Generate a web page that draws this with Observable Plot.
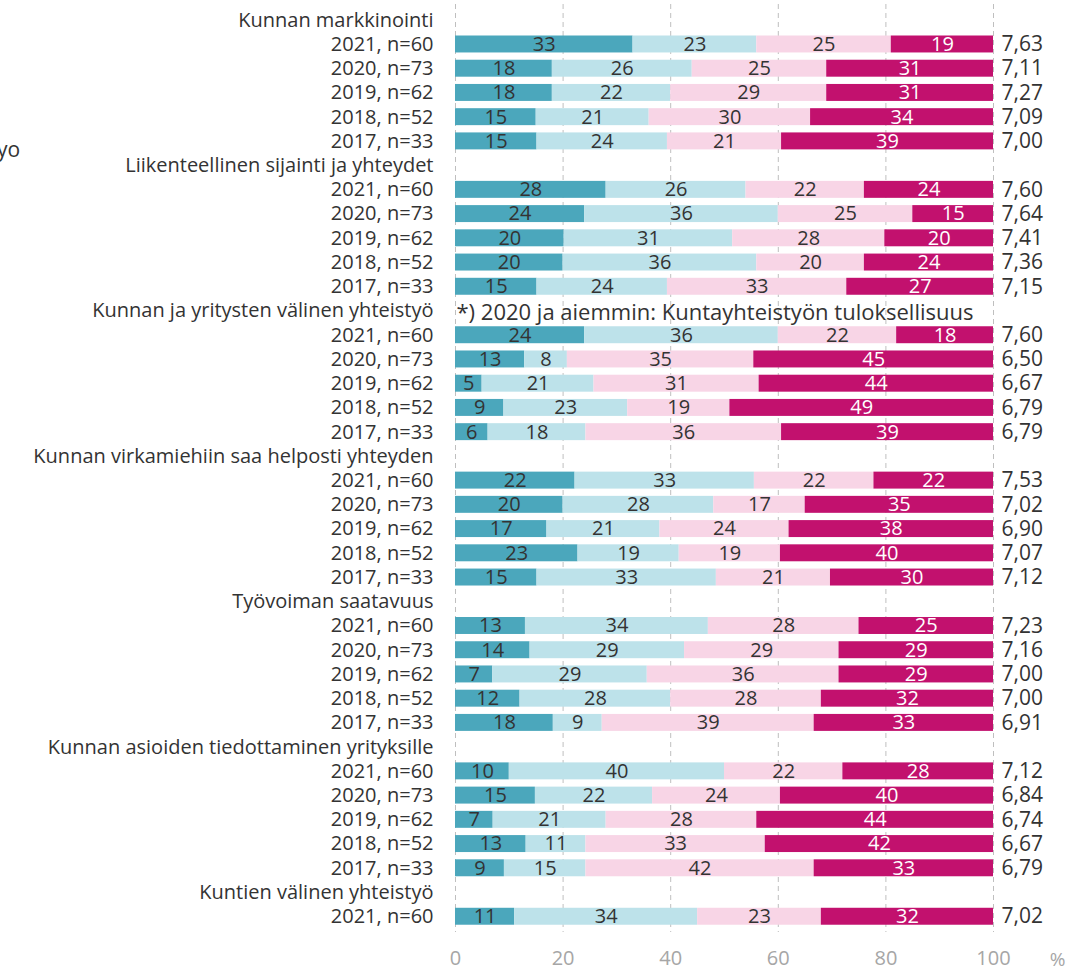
<!DOCTYPE html>
<html><head><meta charset="utf-8">
<script src="https://cdn.jsdelivr.net/npm/d3@7"></script>
<script src="https://cdn.jsdelivr.net/npm/@observablehq/plot@0.6"></script>
<style>
body{margin:0;background:#fff;font-family:"Open Sans",sans-serif;}
#c{position:relative;width:1072px;height:971px;overflow:hidden;background:#fff}
#cut{position:absolute;left:-3px;top:135px;font-size:21px;color:#333;}
</style>
</head><body><div id="c"><div id="cut">yo</div></div>
<script>
const groupNames = [
  "Kunnan markkinointi",
  "Liikenteellinen sijainti ja yhteydet",
  "Kunnan ja yritysten välinen yhteistyö",
  "Kunnan virkamiehiin saa helposti yhteyden",
  "Työvoiman saatavuus",
  "Kunnan asioiden tiedottaminen yrityksille",
  "Kuntien välinen yhteistyö"
];
const fullYears = ["2021, n=60","2020, n=73","2019, n=62","2018, n=52","2017, n=33"];
const rowLabels = [fullYears, fullYears, fullYears, fullYears, fullYears, fullYears, ["2021, n=60"]];
const seriesNames = ["s1","s2","s3","s4"];
const seriesColors = ["#4BA7BC","#BDE2EA","#F8D5E6","#C2116E"];
const s1 = [[33,18,18,15,15],[28,24,20,20,15],[24,13,5,9,6],[22,20,17,23,15],[13,14,7,12,18],[10,15,7,13,9],[11]];
const s2 = [[23,26,22,21,24],[26,36,31,36,24],[36,8,21,23,18],[33,28,21,19,33],[34,29,29,28,9],[40,22,21,11,15],[34]];
const s3 = [[25,25,29,30,21],[22,25,28,20,33],[22,35,31,19,36],[22,17,24,19,21],[28,29,36,28,39],[22,24,28,33,42],[23]];
const s4 = [[19,31,31,34,39],[24,15,20,24,27],[18,45,44,49,39],[22,35,38,40,30],[25,29,29,32,33],[28,40,44,42,33],[32]];
const means = [[7.63,7.11,7.27,7.09,7.00],[7.60,7.64,7.41,7.36,7.15],[7.60,6.50,6.67,6.79,6.79],[7.53,7.02,6.90,7.07,7.12],[7.23,7.16,7.00,7.00,6.91],[7.12,6.84,6.74,6.67,6.79],[7.02]];
const xTicks = [0,20,40,60,80,100];
const noteText = "*) 2020 ja aiemmin: Kuntayhteistyön tuloksellisuus";
const noteGroup = 2;

// build tables
const yDomain = [];
const segs = [];
const rows = [];
const seriesArr = [s1,s2,s3,s4];
groupNames.forEach((g,gi)=>{
  yDomain.push(gi+"|"+g);
  rowLabels[gi].forEach((lab,ri)=>{
    const key = gi+"|"+lab;
    yDomain.push(key);
    rows.push({key, mean: means[gi][ri]});
    seriesArr.forEach((s,si)=>segs.push({key, series: seriesNames[si], value: s[gi][ri]}));
  });
});
const fmt = d3.format(".2f");
const F = "Open Sans";
const stackOpts = {x:"value", y:"key", z:"series", offset:"normalize", order: seriesNames};

const chart = Plot.plot({
  width:1072, height:971,
  marginLeft:455, marginRight:79, marginTop:4, marginBottom:39,
  style:{fontFamily:F, fontSize:"20px", color:"#333", background:"#fff", overflow:"visible"},
  x:{domain:[0,1]},
  y:{domain:yDomain, padding:0.3, round:false},
  color:{domain:seriesNames, range:seriesColors},
  marks:[
    Plot.gridX({ticks: xTicks.map(t=>t/100), stroke:"#BFBFBF", strokeOpacity:1, strokeDasharray:"5,4", strokeWidth:1}),
    Plot.axisX({ticks: xTicks.map(t=>t/100), tickFormat:d=>String(Math.round(d*100)), tickSize:0, tickPadding:18, fill:"#A6A6A6", fontSize:20, fontFamily:F, label:null}),
    Plot.axisY({tickSize:0, tickPadding:22, tickFormat:k=>k.slice(k.indexOf("|")+1), fill:"#333", fontSize:20, fontFamily:F, label:null}),
    Plot.barX(segs, Plot.stackX({...stackOpts, fill:"series"})),
    Plot.text(segs, Plot.stackX({...stackOpts, text:d=>String(d.value), fill:d=>d.series==="s4"?"white":"#333", fontSize:20, fontFamily:F})),
    Plot.text(rows, {y:"key", text:d=>fmt(d.mean).replace(".",","), frameAnchor:"right", textAnchor:"start", dx:8, fill:"#333", fontSize:21, fontFamily:F}),
    Plot.text([noteText], {y:()=>noteGroup+"|"+groupNames[noteGroup], text:d=>d, frameAnchor:"left", textAnchor:"start", dx:1, dy:2, fill:"#333", fontSize:22, fontFamily:F}),
    Plot.text(["%"], {text:d=>d, frameAnchor:"bottom-right", textAnchor:"middle", dx:64, dy:33, fill:"#A6A6A6", fontSize:19, fontFamily:F})
  ]
});
document.getElementById("c").appendChild(chart);
</script>
</body></html>
